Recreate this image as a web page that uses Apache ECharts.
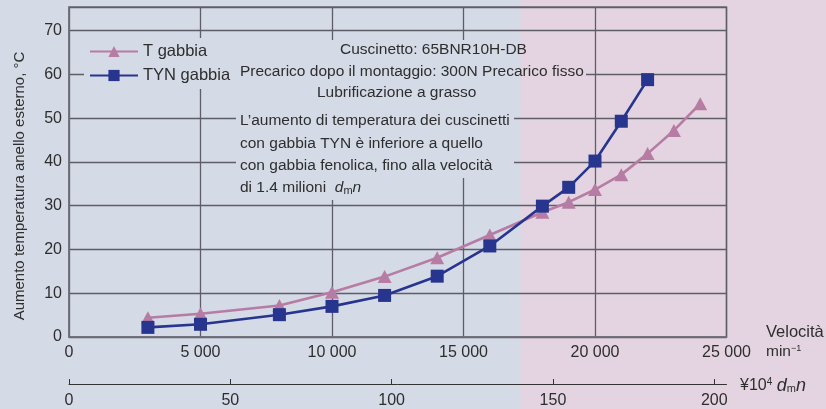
<!DOCTYPE html>
<html><head><meta charset="utf-8">
<script src="https://cdn.jsdelivr.net/npm/echarts@6/dist/echarts.min.js"></script>
<style>html,body{margin:0;padding:0;background:#d4dae6}#c{width:826px;height:409px}</style>
</head><body><div id="c"></div><script>
// ---- data ----
const seriesNames = ['T gabbia', 'TYN gabbia'];
const tSpeed   = [3000, 5000, 8000, 10000, 12000, 14000, 16000, 18000, 19000, 20000, 21000, 22000, 23000, 24000];
const tTemp    = [4.4, 5.3, 7.2, 10.2, 13.8, 18.1, 23.3, 28.5, 30.8, 33.7, 37.1, 41.9, 47.2, 53.3];
const tynSpeed = [3000, 5000, 8000, 10000, 12000, 14000, 16000, 18000, 19000, 20000, 21000, 22000];
const tynTemp  = [2.2, 2.9, 5.1, 7.0, 9.5, 13.9, 20.8, 29.9, 34.2, 40.2, 49.3, 58.8];
const speedTicks = [0, 5000, 10000, 15000, 20000, 25000];
const tempTicks  = [0, 10, 20, 30, 40, 50, 60, 70];
const dmnTicks   = [0, 50, 100, 150, 200];
const speedMax = 25000, tempMax = 75.4, dmnMax = 203.8;
const pinkFromDmn = 140; // 1.4 milioni dmn
const noteHeader = ['Cuscinetto: 65BNR10H-DB', 'Precarico dopo il montaggio: 300N Precarico fisso', 'Lubrificazione a grasso'];
const noteBody = ['L\u2019aumento di temperatura dei cuscinetti', 'con gabbia TYN è inferiore a quello', 'con gabbia fenolica, fino alla velocità'];

const FONT = '"Liberation Sans", Arial, Helvetica, sans-serif';
const BG = '#d4dae6', PINK_BG = '#e4d4e1';
const PINK = '#b67ca3', BLUE = '#27358e', TXT = '#2e2e2e', GRID = '#5e5e68';
const NOTE_FS = 15.5, LBL_FS = 16;

const chart = echarts.init(document.getElementById('c'), null, {renderer: 'canvas'});
const fmtSpeed = v => String(v).replace(/\B(?=(\d{3})+(?!\d))/g, ' ');

function txt(x, y, text, extra) {
  return {type: 'text', z: 10, style: Object.assign({
    x: x, y: y, text: text, fill: TXT, font: NOTE_FS + 'px ' + FONT, textVerticalAlign: 'middle'
  }, extra || {})};
}
const richNote = {
  it: {fontStyle: 'italic', fontSize: NOTE_FS, fontFamily: FONT, fill: TXT},
  sub: {fontSize: 11, fontFamily: FONT, fill: TXT, padding: [6, 0, 0, 0]},
  n: {fontSize: NOTE_FS, fontFamily: FONT, fill: TXT}
};

const option = {
  animation: false,
  backgroundColor: BG,
  textStyle: {fontFamily: FONT},
  grid: {left: 69, top: 7, width: 657.5, height: 330.5, show: true, borderColor: '#6f6f78', borderWidth: 1.5, backgroundColor: 'transparent'},
  legend: {
    left: 84, top: 38, orient: 'vertical', itemWidth: 48, itemHeight: 14, itemGap: 7,
    padding: [5, 6, 5, 5], backgroundColor: BG, data: seriesNames,
    textStyle: {fontSize: 16.5, color: TXT, fontFamily: FONT}
  },
  xAxis: [{
    type: 'value', min: 0, max: speedMax, interval: 5000,
    axisLine: {show: true, lineStyle: {color: '#6f6f78', width: 1.5}},
    axisTick: {show: false},
    axisLabel: {fontSize: LBL_FS, color: TXT, margin: 8, formatter: fmtSpeed, customValues: speedTicks},
    splitLine: {show: true, lineStyle: {color: GRID, width: 1.3}}
  }, {
    type: 'value', min: 0, max: dmnMax, position: 'bottom', offset: 47,
    axisLine: {show: true, onZero: false, lineStyle: {color: '#333', width: 1}},
    axisTick: {show: true, inside: true, length: 5, lineStyle: {color: '#333'}, customValues: dmnTicks},
    axisLabel: {fontSize: LBL_FS, color: TXT, margin: 9, customValues: dmnTicks},
    splitLine: {show: false}
  }],
  yAxis: {
    type: 'value', min: 0, max: tempMax, interval: 10,
    axisLine: {show: true, lineStyle: {color: '#6f6f78', width: 1.5}},
    axisTick: {show: false},
    axisLabel: {fontSize: LBL_FS, color: TXT, margin: 7, customValues: tempTicks},
    splitLine: {show: true, lineStyle: {color: GRID, width: 1.3}}
  },
  series: [{
    name: seriesNames[0], type: 'line', xAxisIndex: 0,
    data: tSpeed.map((s, i) => [s, tTemp[i]]),
    symbol: 'triangle', symbolSize: [14, 13],
    itemStyle: {color: PINK}, lineStyle: {color: PINK, width: 2.6}, z: 3
  }, {
    name: seriesNames[1], type: 'line', xAxisIndex: 0,
    data: tynSpeed.map((s, i) => [s, tynTemp[i]]),
    symbol: 'rect', symbolSize: 13,
    itemStyle: {color: BLUE}, lineStyle: {color: BLUE, width: 2.6}, z: 4
  }]
};
chart.setOption(option);

const pinkX = chart.convertToPixel({xAxisIndex: 1}, pinkFromDmn);
// text background pieces, split at the pink boundary so each matches what lies under it
function bg(x, y, w, h) {
  const out = [];
  const x2 = x + w;
  if (x < pinkX) out.push({type: 'rect', z: 6, silent: true, shape: {x: x, y: y, width: Math.min(x2, pinkX) - x, height: h}, style: {fill: BG}});
  if (x2 > pinkX) out.push({type: 'rect', z: 6, silent: true, shape: {x: Math.max(x, pinkX), y: y, width: x2 - Math.max(x, pinkX), height: h}, style: {fill: PINK_BG}});
  return out;
}
const graphics = [
  {type: 'rect', z: -10, silent: true, shape: {x: pinkX, y: 0, width: 826 - pinkX, height: 409}, style: {fill: PINK_BG}},
  ...bg(330, 40, 200, 22),
  ...bg(236, 62, 350, 42),
  ...bg(236, 104, 278, 74),
  ...bg(236, 178, 130, 22),
  txt(340, 50, noteHeader[0]),
  txt(240, 72, noteHeader[1]),
  txt(317, 93, noteHeader[2]),
  txt(240, 121, noteBody[0]),
  txt(240, 144, noteBody[1]),
  txt(240, 166, noteBody[2]),
  txt(240, 188, '{n|di 1.4 milioni  }{it|d}{sub|m}{it|n}', {rich: richNote}),
  // y axis name
  {type: 'text', z: 10, x: 20, y: 186, rotation: Math.PI / 2,
    style: {text: 'Aumento temperatura anello esterno, °C', fill: TXT, font: '15px ' + FONT, textAlign: 'center', textVerticalAlign: 'middle'}},
  // x axis names
  txt(766, 332, 'Velocità', {font: '16.5px ' + FONT}),
  txt(766, 352, '{n|min}{sup|\u22121}', {rich: {n: {fontSize: 15.5, fontFamily: FONT, fill: TXT}, sup: {fontSize: 9, fontFamily: FONT, fill: TXT, padding: [0, 0, 7, 0]}}}),
  txt(740, 386, '{n|¥10}{sup|4}{n| }{it|d}{sub|m}{it|n}', {rich: {
    n: {fontSize: 16, fontFamily: FONT, fill: TXT},
    sup: {fontSize: 10, fontFamily: FONT, fill: TXT, padding: [0, 0, 7, 0]},
    it: {fontSize: 18, fontStyle: 'italic', fontFamily: FONT, fill: TXT},
    sub: {fontSize: 11, fontFamily: FONT, fill: TXT, padding: [6, 0, 0, 0]}
  }})
];
chart.setOption({graphic: {elements: graphics}});
</script></body></html>
